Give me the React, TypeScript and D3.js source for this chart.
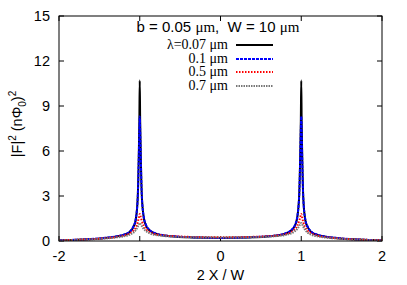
import React, { useEffect, useRef } from 'react';
import * as d3 from 'd3';

// positions along the strip, 2X/W
const xs = [
  -2, -1.85, -1.65, -1.45, -1.3, -1.2, -1.12, -1.08, -1.05, -1.025, -1.012, -1.005, -1,
  -0.995, -0.988, -0.975, -0.95, -0.92, -0.88, -0.8, -0.7, -0.55, -0.35, -0.15, 0,
  0.15, 0.35, 0.55, 0.7, 0.8, 0.88, 0.92, 0.95, 0.975, 0.988, 0.995,
  1, 1.005, 1.012, 1.025, 1.05, 1.08, 1.12, 1.2, 1.3, 1.45, 1.65, 1.85, 2,
];

const lam007 = [
  0.05, 0.07, 0.11, 0.19, 0.29, 0.4, 0.62, 0.92, 1.4, 2.9, 5.7, 8.0, 10.7,
  8.1, 5.9, 3.1, 1.55, 1.0, 0.72, 0.48, 0.37, 0.29, 0.24, 0.21, 0.2,
  0.21, 0.24, 0.29, 0.37, 0.48, 0.72, 1.0, 1.55, 3.1, 5.9, 8.1,
  10.7, 8.0, 5.7, 2.9, 1.4, 0.92, 0.62, 0.4, 0.29, 0.19, 0.11, 0.07, 0.05,
];
const lam01 = [
  0.05, 0.07, 0.12, 0.2, 0.3, 0.42, 0.65, 0.95, 1.45, 2.9, 5.6, 7.4, 8.3,
  7.5, 5.8, 3.1, 1.6, 1.05, 0.75, 0.5, 0.38, 0.3, 0.25, 0.21, 0.2,
  0.21, 0.25, 0.3, 0.38, 0.5, 0.75, 1.05, 1.6, 3.1, 5.8, 7.5,
  8.3, 7.4, 5.6, 2.9, 1.45, 0.95, 0.65, 0.42, 0.3, 0.2, 0.12, 0.07, 0.05,
];
const lam05 = [
  0.05, 0.07, 0.11, 0.18, 0.26, 0.36, 0.52, 0.68, 0.9, 1.25, 1.55, 1.7, 1.8,
  1.75, 1.6, 1.35, 1.0, 0.78, 0.6, 0.45, 0.37, 0.31, 0.27, 0.25, 0.25,
  0.25, 0.27, 0.31, 0.37, 0.45, 0.6, 0.78, 1.0, 1.35, 1.6, 1.75,
  1.8, 1.7, 1.55, 1.25, 0.9, 0.68, 0.52, 0.36, 0.26, 0.18, 0.11, 0.07, 0.05,
];
const lam07 = [
  0.04, 0.06, 0.1, 0.16, 0.23, 0.31, 0.43, 0.55, 0.72, 0.95, 1.1, 1.17, 1.2,
  1.18, 1.12, 1.0, 0.8, 0.65, 0.52, 0.4, 0.33, 0.28, 0.25, 0.23, 0.23,
  0.23, 0.25, 0.28, 0.33, 0.4, 0.52, 0.65, 0.8, 1.0, 1.12, 1.18,
  1.2, 1.17, 1.1, 0.95, 0.72, 0.55, 0.43, 0.31, 0.23, 0.16, 0.1, 0.06, 0.04,
];

const xTicks = [-2, -1, 0, 1, 2];
const yTicks = [0, 3, 6, 9, 12, 15];
const legendLabels = ['\u03bb=0.07 \u03bcm', '0.1 \u03bcm', '0.5 \u03bcm', '0.7 \u03bcm'];

const SANS = '"Liberation Sans", Arial, sans-serif';
const SERIF = '"Liberation Serif", "Times New Roman", serif';

const App = () => {
  const svgRef = useRef<SVGSVGElement>(null);

  useEffect(() => {
    document.body.style.margin = '0';
    const svg = d3.select(svgRef.current);
    svg.selectAll('*').remove();

    const width = 407;
    const height = 285;
    const margin = { top: 16, right: 25, bottom: 44, left: 59 };
    const innerW = width - margin.left - margin.right;
    const innerH = height - margin.top - margin.bottom;

    const x = d3.scaleLinear().domain([-2, 2]).range([margin.left, margin.left + innerW]);
    const y = d3.scaleLinear().domain([0, 15]).range([margin.top + innerH, margin.top]);

    svg.append('defs').append('clipPath').attr('id', 'plotclip')
      .append('rect')
      .attr('x', margin.left).attr('y', margin.top)
      .attr('width', innerW).attr('height', innerH);

    const tickLen = 5;
    // ticks (gnuplot style, inward and mirrored)
    const g = svg.append('g').attr('stroke', '#000').attr('stroke-width', 1);
    xTicks.forEach(t => {
      g.append('line').attr('x1', x(t)).attr('x2', x(t))
        .attr('y1', y(0)).attr('y2', y(0) - tickLen);
      g.append('line').attr('x1', x(t)).attr('x2', x(t))
        .attr('y1', y(15)).attr('y2', y(15) + tickLen);
    });
    yTicks.forEach(t => {
      g.append('line').attr('x1', x(-2)).attr('x2', x(-2) + tickLen)
        .attr('y1', y(t)).attr('y2', y(t));
      g.append('line').attr('x1', x(2)).attr('x2', x(2) - tickLen)
        .attr('y1', y(t)).attr('y2', y(t));
    });

    svg.selectAll('.xt').data(xTicks).join('text')
      .attr('x', d => x(d)).attr('y', y(0) + 20)
      .attr('text-anchor', 'middle')
      .style('font-family', SANS).style('font-size', '14.5px')
      .text(d => d3.format('d')(d).replace('\u2212', '-'));

    svg.selectAll('.yt').data(yTicks).join('text')
      .attr('x', x(-2) - 9).attr('y', d => y(d) + 5)
      .attr('text-anchor', 'end')
      .style('font-family', SANS).style('font-size', '14.5px')
      .text(d => d);

    // curves
    const series = [
      { vals: lam007, color: '#000000', dash: null, w: 2 },
      { vals: lam01, color: '#0000ff', dash: '3,1', w: 2 },
      { vals: lam05, color: '#ff0000', dash: '1.5,1.5', w: 2 },
      { vals: lam07, color: '#777777', dash: '1.5,1', w: 2 },
    ];
    const line = d3.line<[number, number]>().x(d => x(d[0])).y(d => y(d[1])).curve(d3.curveMonotoneX);
    const plot = svg.append('g').attr('clip-path', 'url(#plotclip)');
    series.forEach(s => {
      const p = plot.append('path')
        .attr('d', line(xs.map((v, i) => [v, s.vals[i]] as [number, number])))
        .attr('fill', 'none')
        .attr('stroke', s.color)
        .attr('stroke-width', s.w);
      if (s.dash) p.attr('stroke-dasharray', s.dash);
    });

    // border
    svg.append('rect')
      .attr('x', margin.left).attr('y', margin.top)
      .attr('width', innerW).attr('height', innerH)
      .attr('fill', 'none').attr('stroke', '#000').attr('stroke-width', 1);

    // title
    const title = svg.append('text')
      .attr('x', 218).attr('y', 32)
      .attr('text-anchor', 'middle')
      .style('white-space', 'pre')
      .style('font-family', SANS).style('font-size', '15px');
    title.append('tspan').text('b = 0.05 ');
    title.append('tspan').style('font-family', SERIF).text('\u03bcm');
    title.append('tspan').text(',\u00a0\u00a0W = 10 ');
    title.append('tspan').style('font-family', SERIF).text('\u03bcm');

    // legend
    const legY = [45, 59, 72, 86];
    legendLabels.forEach((lab, i) => {
      svg.append('text')
        .attr('x', 228).attr('y', legY[i] + 4)
        .attr('text-anchor', 'end')
        .style('font-family', SERIF).style('font-size', '14px')
        .text(lab);
      const l = svg.append('line')
        .attr('x1', 236).attr('x2', 273)
        .attr('y1', legY[i]).attr('y2', legY[i])
        .attr('stroke', series[i].color).attr('stroke-width', 2);
      if (series[i].dash) l.attr('stroke-dasharray', series[i].dash);
    });

    // axis labels
    svg.append('text')
      .attr('x', x(0)).attr('y', 280)
      .attr('text-anchor', 'middle')
      .style('font-family', SANS).style('font-size', '14.5px')
      .text('2 X / W');

    const yl = svg.append('text')
      .attr('transform', `translate(22, ${y(7.8)}) rotate(-90)`)
      .attr('text-anchor', 'middle')
      .style('font-family', SANS).style('font-size', '14.5px');
    yl.append('tspan').text('|F|');
    yl.append('tspan').attr('dy', -6).style('font-size', '10px').text('2');
    yl.append('tspan').attr('dy', 6).text(' (n\u03a6');
    yl.append('tspan').attr('dy', 4).style('font-size', '10px').text('0');
    yl.append('tspan').attr('dy', -4).text(')');
    yl.append('tspan').attr('dy', -6).style('font-size', '10px').text('2');
  }, []);

  return <svg ref={svgRef} width={407} height={285} style={{ display: 'block' }}></svg>;
};

export default App;
